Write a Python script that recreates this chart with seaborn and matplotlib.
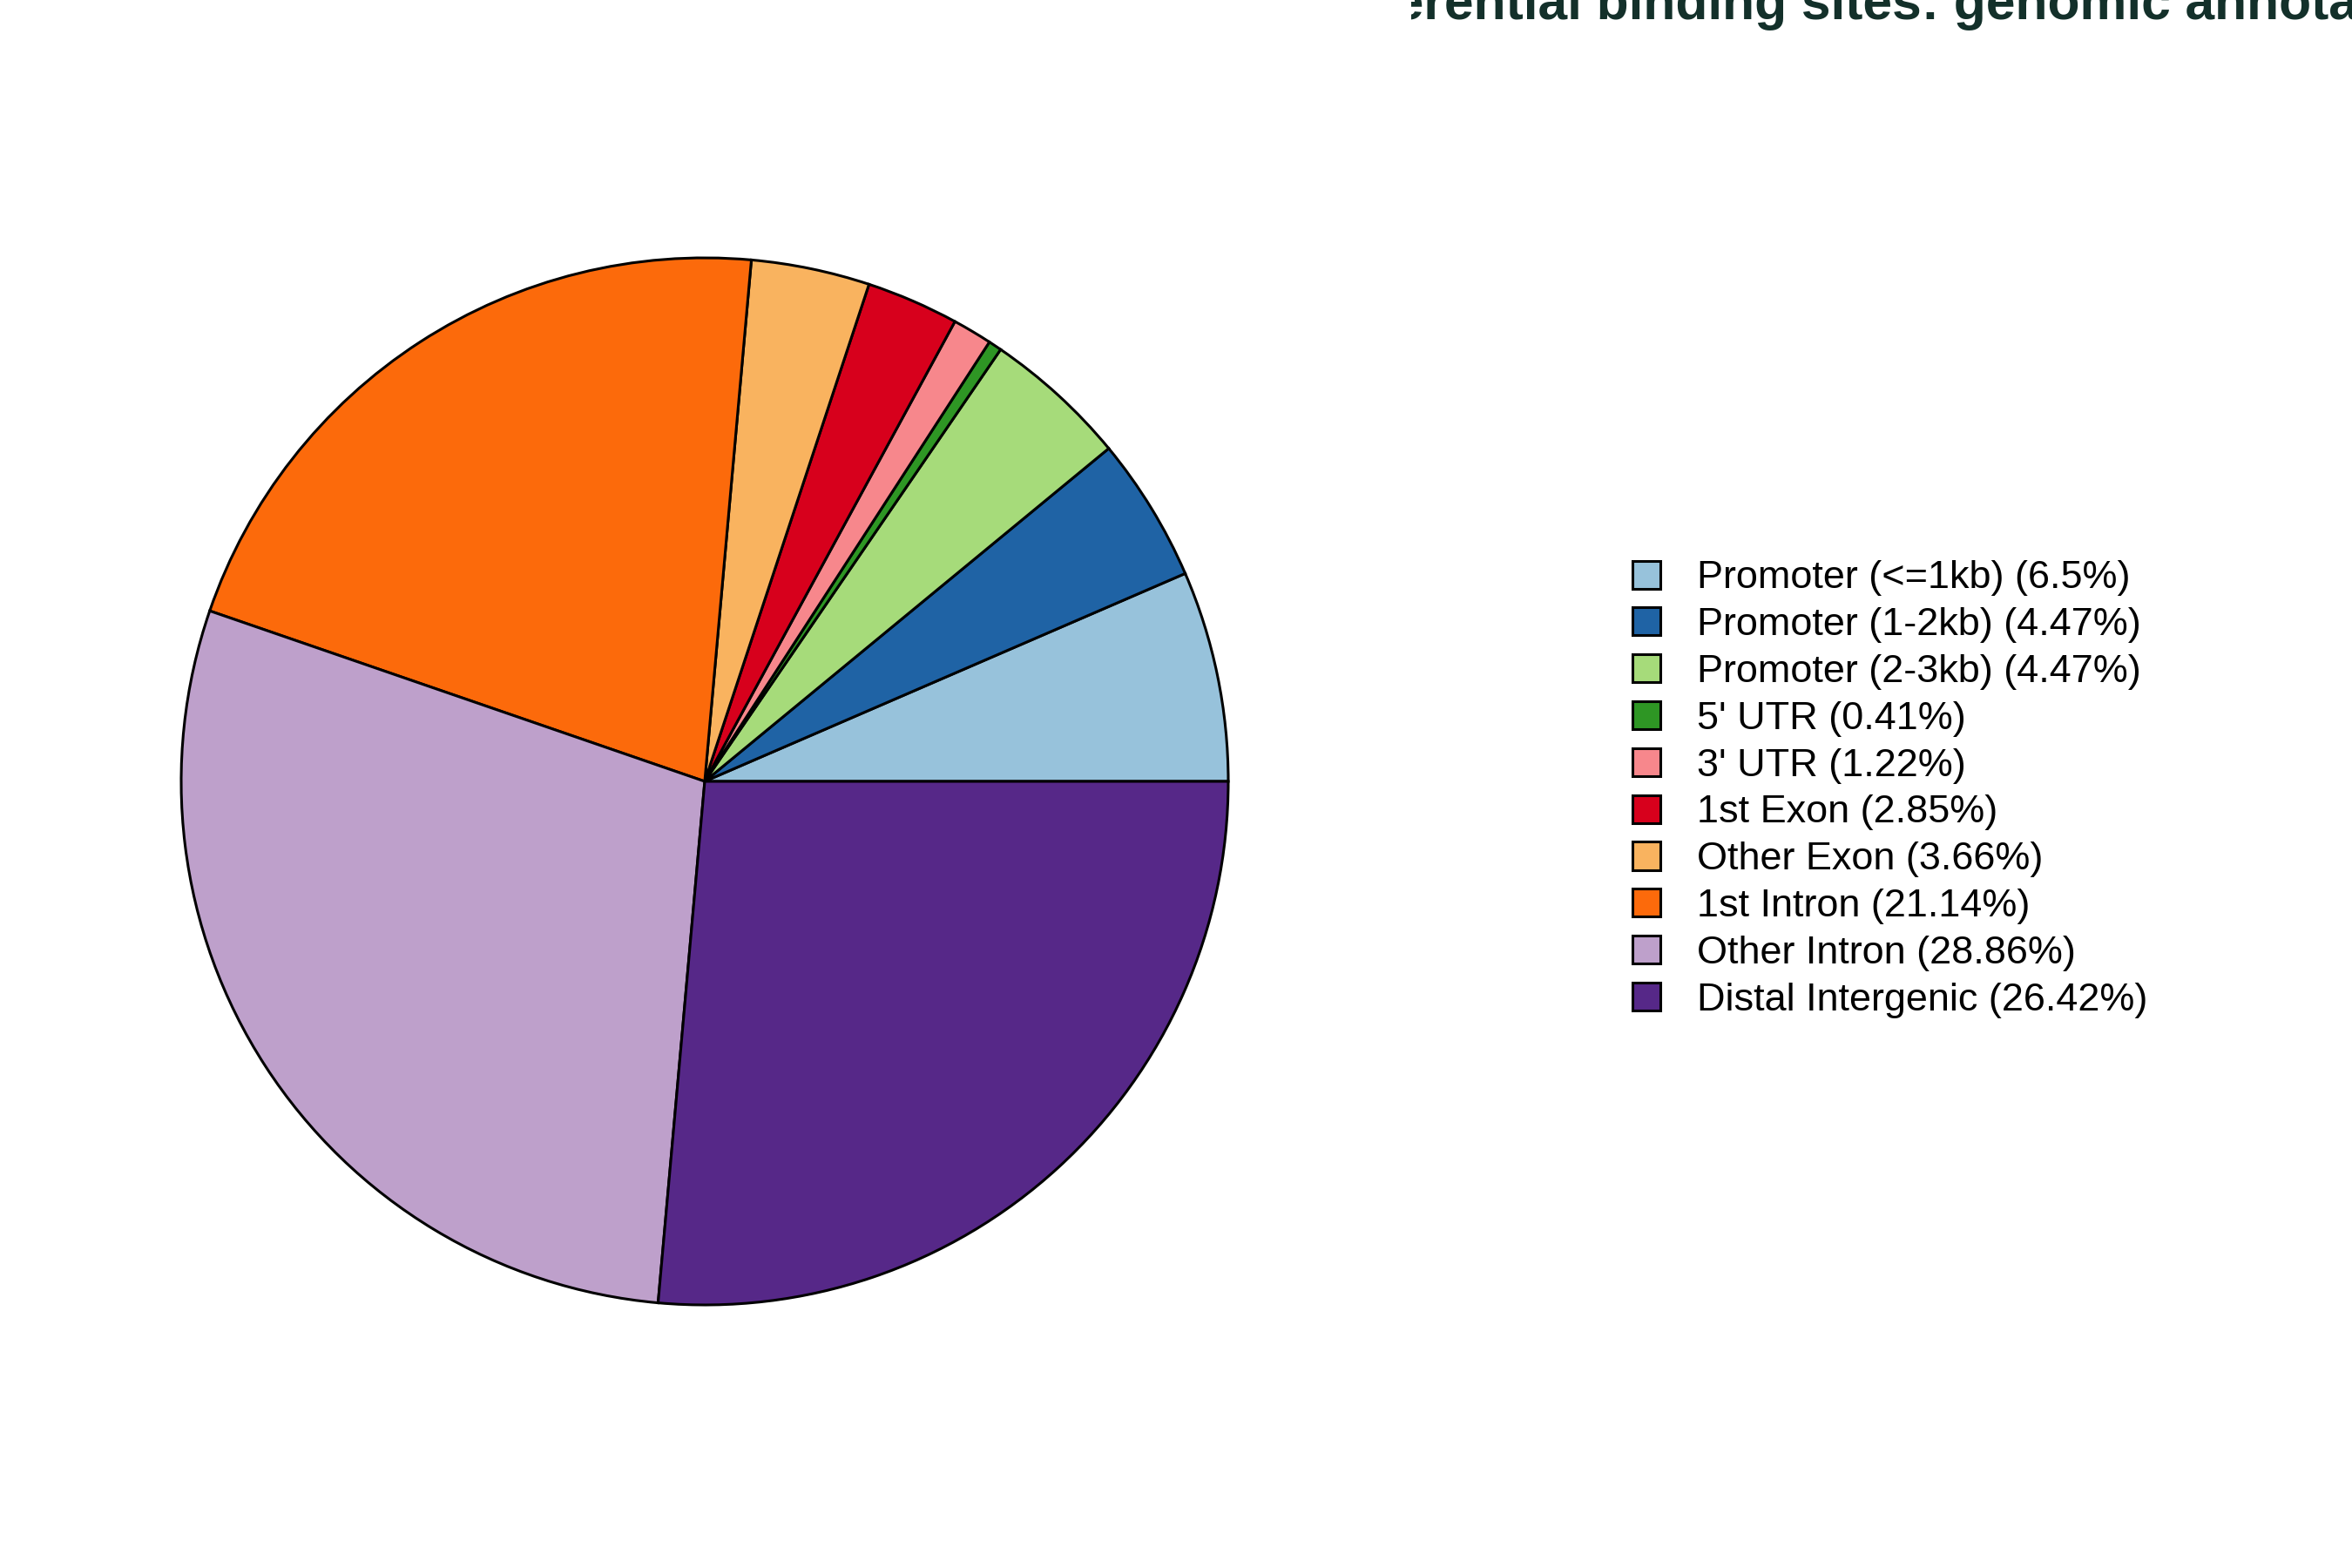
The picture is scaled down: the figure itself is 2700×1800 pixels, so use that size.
import numpy as np
import matplotlib
matplotlib.use("Agg")
import matplotlib.pyplot as plt
from matplotlib.patches import Rectangle
import seaborn as sns

# ------------------ Data ------------------
categories = [
    "Promoter (<=1kb)", "Promoter (1-2kb)", "Promoter (2-3kb)", "5' UTR", "3' UTR",
    "1st Exon", "Other Exon", "1st Intron", "Other Intron", "Distal Intergenic",
]
percents = [6.5, 4.47, 4.47, 0.41, 1.22, 2.85, 3.66, 21.14, 28.86, 26.42]
slice_colors = [
    "#97c2db", "#1f63a5", "#a6db7a", "#2e9624", "#f7878c",
    "#d7001c", "#f9b35f", "#fc6a0b", "#bea0cb", "#562888",
]
title_text = "Differential binding sites: genomic annotation"

# ------------------ Style ------------------
sns.set_style("white")
plt.rcParams["font.family"] = ["Liberation Sans", "DejaVu Sans"]
plt.rcParams["text.color"] = "black"
palette = sns.color_palette(slice_colors)

W, H, DPI = 2700, 1800, 200
fig = plt.figure(figsize=(W / DPI, H / DPI), dpi=DPI)

# pie axes: centre (809, 897) px, radius 601 px
cx, cy, r = 809, 897, 601
ax = fig.add_axes([(cx - r) / W, (H - cy - r) / H, 2 * r / W, 2 * r / H])
wedges, _ = ax.pie(
    percents, colors=palette, startangle=0, counterclock=True, radius=1,
    wedgeprops=dict(edgecolor="black", linewidth=1.1),
)
ax.set_xlim(-1.0, 1.0)
ax.set_ylim(-1.0, 1.0)
ax.set_aspect("equal")
ax.axis("off")

# ------------------ Legend ------------------
labels = [f"{c} ({p:g}%)" for c, p in zip(categories, percents)]
fig.legend(
    wedges, labels, loc="center left", bbox_to_anchor=(1874 / W, 1 - 906 / H),
    frameon=False, fontsize=16.2, handlelength=0.72, handleheight=0.72,
    handletextpad=0.93, labelspacing=0.285, borderpad=0, borderaxespad=0,
    labelcolor="black",
)

# ------------------ Title (clipped like the original) ------------------
t = fig.text(1500 / W, 1 - 22 / H, title_text, fontsize=21.8, fontweight="bold",
             color="#13302a", ha="left", va="baseline")
t.set_clip_path(Rectangle((1620 / W, 0), 1, 1, transform=fig.transFigure))

fig.savefig("out.png", dpi=DPI, facecolor="white")
